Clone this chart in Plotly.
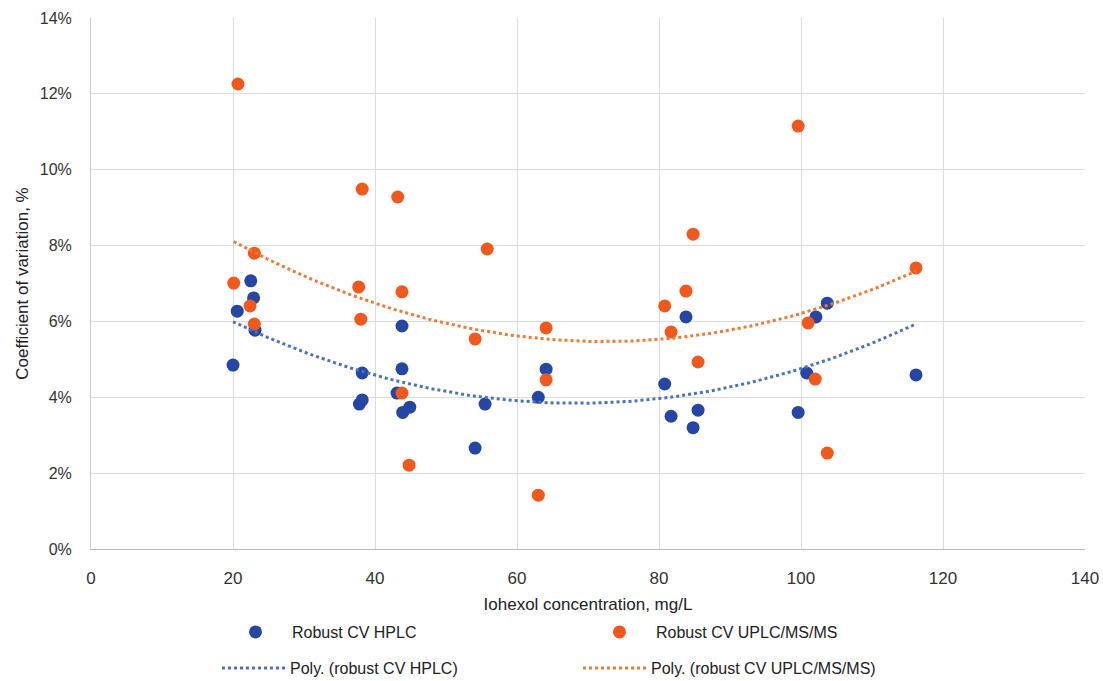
import numpy as np
import plotly.graph_objects as go

# Iohexol concentration (mg/L) and robust CV (%)
hplc_x = [20.0, 20.6, 22.5, 22.9, 23.1, 37.8, 38.2, 38.2, 43.8, 43.8, 43.1, 43.9, 44.9,
          54.1, 55.5, 64.1, 63.0, 80.8, 81.7, 83.8, 84.8, 85.5, 99.6, 100.8, 102.1, 103.7, 116.2]
hplc_cv = [4.85, 6.27, 7.07, 6.62, 5.77, 3.82, 3.93, 4.64, 5.88, 4.75, 4.11, 3.60, 3.74,
           2.66, 3.82, 4.74, 4.00, 4.35, 3.50, 6.12, 3.20, 3.66, 3.60, 4.64, 6.12, 6.48, 4.59]

uplc_x = [20.1, 20.7, 22.4, 23.0, 23.0, 37.7, 38.0, 38.2, 43.2, 43.8, 43.8, 44.8, 54.1,
          55.8, 63.0, 64.1, 64.1, 80.8, 81.7, 83.8, 84.8, 85.5, 99.6, 101.0, 102.0, 103.7, 116.2]
uplc_cv = [7.01, 12.26, 6.41, 7.80, 5.93, 6.91, 6.06, 9.49, 9.28, 6.78, 4.11, 2.21, 5.54,
           7.91, 1.42, 5.83, 4.46, 6.41, 5.72, 6.80, 8.30, 4.93, 11.15, 5.96, 4.48, 2.53, 7.41]

x_ticks = [0, 20, 40, 60, 80, 100, 120, 140]
y_ticks = [0, 2, 4, 6, 8, 10, 12, 14]

BLUE = "#2447A5"
ORANGE = "#F2581C"
FONT = "Liberation Sans, Arial, sans-serif"

W, H = 1103, 681

def poly_fit(xs, ys):
    c = np.polyfit(xs, ys, 2)
    xx = np.linspace(min(xs), max(xs), 120)
    return xx, np.polyval(c, xx)

fig = go.Figure()
fig.add_trace(go.Scatter(x=hplc_x, y=hplc_cv, mode="markers", name="Robust CV HPLC",
                         marker=dict(color=BLUE, size=13), legend="legend"))
fig.add_trace(go.Scatter(x=uplc_x, y=uplc_cv, mode="markers", name="Robust CV UPLC/MS/MS",
                         marker=dict(color=ORANGE, size=13), legend="legend"))
hx, hy = poly_fit(hplc_x, hplc_cv)
fig.add_trace(go.Scatter(x=hx, y=hy, mode="lines", name="Poly. (robust CV HPLC)",
                         line=dict(color="#4A72C4", width=3, dash="dot"), legend="legend2"))
ux, uy = poly_fit(uplc_x, uplc_cv)
fig.add_trace(go.Scatter(x=ux, y=uy, mode="lines", name="Poly. (robust CV UPLC/MS/MS)",
                         line=dict(color="#F07A32", width=3, dash="dot"), legend="legend2"))

leg_common = dict(orientation="h", xanchor="left", yanchor="middle", xref="container", yref="container",
                  entrywidthmode="pixels", bgcolor="rgba(0,0,0,0)", itemwidth=63,
                  font=dict(family=FONT, size=16, color="#222222"))

fig.update_layout(
    width=W, height=H,
    margin=dict(l=91, r=18, t=18, b=132, autoexpand=False),
    plot_bgcolor="white", paper_bgcolor="white",
    font=dict(family=FONT, size=16, color="#333333"),
    showlegend=True,
    legend=dict(x=219 / W, y=1 - 632 / H, entrywidth=286, **leg_common),
    legend2=dict(x=217 / W, y=1 - 668 / H, entrywidth=283, **leg_common),
)
fig.update_xaxes(range=[0, 140], tickvals=x_ticks, ticktext=[str(v) for v in x_ticks],
                 automargin=False,
                 showgrid=True, gridcolor="#DDDDDD", gridwidth=1,
                 showline=True, linecolor="#BBBBBB", linewidth=1, zeroline=False,
                 ticks="", ticklabelstandoff=14,
                 tickfont=dict(family=FONT, size=17, color="#333333"),
                 title=dict(text="Iohexol concentration, mg/L", standoff=10,
                            font=dict(family=FONT, size=17, color="#222222")))
fig.update_yaxes(range=[0, 14], tickvals=y_ticks, ticktext=[f"{v}%" for v in y_ticks],
                 automargin=False,
                 showgrid=True, gridcolor="#DDDDDD", gridwidth=1,
                 showline=True, linecolor="#CCCCCC", linewidth=1, zeroline=False,
                 ticks="", ticklabelstandoff=15,
                 tickfont=dict(family=FONT, size=16, color="#333333"),
                 title=dict(text="Coefficient of variation, %", standoff=6,
                            font=dict(family=FONT, size=17, color="#222222")))

fig.write_html("out.html", config={"displayModeBar": False},
               post_script="document.body.style.margin='0';document.body.style.overflow='hidden';")
